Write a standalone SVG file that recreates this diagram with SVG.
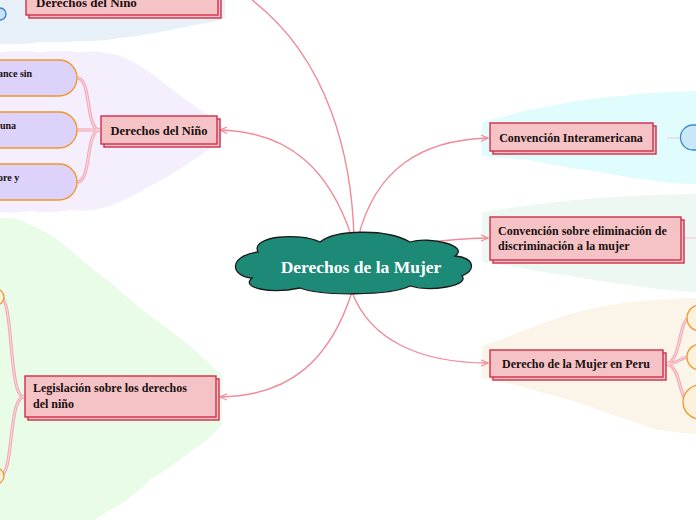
<svg xmlns="http://www.w3.org/2000/svg" width="696" height="520" viewBox="0 0 696 520">
<defs>
<style>
.t{font-family:"Liberation Serif","DejaVu Serif",serif;font-weight:bold;fill:#1a1010}
.box{fill:#f5c3c6;stroke:#cf2e4a;stroke-width:1.4}
.con{fill:none;stroke:#f28a98;stroke-width:1.4}
.sub{fill:none;stroke:#f4a8b4;stroke-width:3.2}
.subi{fill:none;stroke:#fbe0e6;stroke-width:1}
.pill{fill:#dcd2fa;stroke:#f0962a;stroke-width:1.3}
.opill{fill:#fdf1dc;stroke:#f0962a;stroke-width:1.3}
</style>
<marker id="ar" viewBox="0 0 10 10" refX="9" refY="5" markerWidth="8" markerHeight="8" orient="auto" markerUnits="userSpaceOnUse">
<path d="M0,1 L9,5 L0,9" fill="none" stroke="#f28a98" stroke-width="1.4"/>
</marker>
</defs>
<rect width="696" height="520" fill="#fff"/>
<g id="backgrounds">
<path d="M0,0 H225 V18 Q215,22 200,24 Q180,28 160,32 Q140,36 120,38 Q100,42 80,41 Q60,43 40,42 Q20,45 0,44 Z" fill="#e8f1f8"/>
<path d="M0,52 Q20,50 40,52 Q60,50 80,52 Q100,50 120,56 Q140,64 160,80 Q180,96 200,110 Q215,118 222,126 V138 Q210,150 190,162 Q170,176 150,186 Q130,198 110,206 Q90,212 70,210 Q50,214 30,211 Q15,214 0,212 Z" fill="#f5eefc"/>
<path d="M0,218 Q15,216 30,225 Q50,232 70,250 Q90,268 110,282 Q130,300 150,316 Q170,330 190,346 Q210,364 222,376 V424 Q210,440 190,452 Q170,468 150,480 Q130,500 110,510 Q100,516 95,520 H0 Z" fill="#e8fce8"/>
<path d="M482,122 Q500,118 520,112 Q540,108 560,104 Q580,100 600,98 Q620,96 640,94 Q660,92 696,91 V184 Q670,184 650,180 Q630,178 610,174 Q590,170 570,168 Q550,164 530,160 Q505,158 482,156 Z" fill="#e0fcfc"/>
<path d="M482,212 Q510,208 540,204 Q570,200 600,198 Q640,195 696,194 V292 Q660,290 630,285 Q600,282 570,276 Q540,272 510,266 Q495,264 482,262 Z" fill="#eef8f2"/>
<path d="M482,346 Q500,340 520,332 Q545,322 570,314 Q600,306 630,302 Q660,299 696,298 V434 Q670,432 650,428 Q630,420 610,414 Q590,406 570,400 Q540,392 520,386 Q500,382 482,378 Z" fill="#faf5e8"/>
</g>
<g id="connectors">
<path class="con" d="M354,238 C352,160 330,60 252,0"/>
<path class="con" d="M352,238 C330,170 290,132 220,130" marker-end="url(#ar)"/>
<path class="con" d="M358,238 C375,170 420,140 488,138" marker-end="url(#ar)"/>
<path class="con" d="M430,242 C450,240 470,238 488,238" marker-end="url(#ar)"/>
<path class="con" d="M352,292 C370,340 420,363 488,363" marker-end="url(#ar)"/>
<path class="con" d="M352,292 C330,360 290,396 220,397" marker-end="url(#ar)"/>
<g>
<path class="sub" d="M100,130 C85,130 92,78 77,78"/>
<path class="sub" d="M100,130 C85,130 92,130 77,130"/>
<path class="sub" d="M100,130 C85,130 92,182 77,182"/>
<path class="subi" d="M100,130 C85,130 92,78 77,78"/>
<path class="subi" d="M100,130 C85,130 92,130 77,130"/>
<path class="subi" d="M100,130 C85,130 92,182 77,182"/>
<path class="sub" d="M24,397 C8,397 14,297 0,297"/>
<path class="sub" d="M24,397 C8,397 14,476 0,476"/>
<path class="subi" d="M24,397 C8,397 14,297 0,297"/>
<path class="subi" d="M24,397 C8,397 14,476 0,476"/>
<path class="sub" d="M665,364 C682,364 678,318 690,318"/>
<path class="sub" d="M665,364 C682,364 678,357 690,357"/>
<path class="sub" d="M665,364 C682,364 678,402 690,402"/>
<path class="subi" d="M665,364 C682,364 678,318 690,318"/>
<path class="subi" d="M665,364 C682,364 678,357 690,357"/>
<path class="subi" d="M665,364 C682,364 678,402 690,402"/>
<path d="M667,138 H680" stroke="#e4e4e4" stroke-width="2"/>
<path d="M684,238 H696" stroke="#f8d0d6" stroke-width="1.5"/>
</g>
</g>
<g id="center">
<path d="M258,252 C250,236 300,232 320,242 C335,230 385,228 410,242 C430,236 470,246 455,256 C475,258 476,270 462,276 C470,286 430,292 410,286 C390,296 320,296 300,288 C270,294 240,288 252,278 C230,276 228,256 258,252 Z" fill="#1d8a78" stroke="#1a1a1a" stroke-width="1.3"/>
<text x="361" y="273" text-anchor="middle" font-family="Liberation Serif,DejaVu Serif,serif" font-weight="bold" font-size="17.5" fill="#fff">Derechos de la Mujer</text>
</g>
<g id="n-top">
<rect class="box" x="29" y="-10" width="192" height="28"/>
<rect class="box" x="26" y="-13" width="192" height="28"/>
<text class="t" x="36" y="7" font-size="13">Derechos del Niño</text>
<path d="M0,8 A6,6 0 0 1 0,20" fill="#c8e4fa" stroke="#3a7ad0" stroke-width="1.3"/>
</g>
<g id="n-ninos">
<rect class="box" x="104" y="119" width="116" height="28"/>
<rect class="box" x="101" y="116" width="116" height="28"/>
<text class="t" x="159" y="135" font-size="12.5" text-anchor="middle">Derechos del Niño</text>
</g>
<g id="p1"><path class="pill" d="M-20,60 H59 A18,18 0 0 1 59,96 H-20 Z"/><text class="t" x="-2" y="77" font-size="10">ance sin</text></g>
<g id="p2"><path class="pill" d="M-20,112 H59 A18,18 0 0 1 59,148 H-20 Z"/><text class="t" x="0" y="129" font-size="10">una</text></g>
<g id="p3"><path class="pill" d="M-20,164 H59 A18,18 0 0 1 59,200 H-20 Z"/><text class="t" x="-2" y="181" font-size="10">ore y</text></g>
<g id="n-inter">
<rect class="box" x="493" y="126" width="163" height="28"/>
<rect class="box" x="490" y="123" width="163" height="28"/>
<text class="t" x="571" y="142" font-size="12" text-anchor="middle">Convención Interamericana</text>
</g>
<g id="n-inter-c"><path d="M696,125 H693 A12.5,12.5 0 0 0 693,150 H696" fill="#c8e8fa" stroke="#3a88d0" stroke-width="1.3"/></g>
<g id="n-elim">
<rect class="box" x="493" y="220" width="191" height="43"/>
<rect class="box" x="490" y="217" width="191" height="43"/>
<text class="t" x="498" y="235" font-size="12">Convención sobre eliminación de</text>
<text class="t" x="498" y="250" font-size="12">discriminación a la mujer</text>
</g>
<g id="n-peru">
<rect class="box" x="493" y="353" width="173" height="27"/>
<rect class="box" x="490" y="350" width="173" height="27"/>
<text class="t" x="576" y="368" font-size="12" text-anchor="middle">Derecho de la Mujer en Peru</text>
</g>
<g id="o1"><path class="opill" d="M700,305 A13,13 0 0 0 700,331" /></g>
<g id="o2"><path class="opill" d="M700,344 A13,13 0 0 0 700,370" /></g>
<g id="o3"><path class="opill" d="M700,385 A17,17 0 0 0 700,419" /></g>
<g id="n-legis">
<rect class="box" x="28" y="379" width="191" height="41"/>
<rect class="box" x="25" y="376" width="191" height="41"/>
<text class="t" x="33" y="392" font-size="12">Legislación sobre los derechos</text>
<text class="t" x="33" y="408" font-size="12">del niño</text>
</g>
<g id="l1"><path class="opill" d="M-4,289 A8,8 0 0 1 -4,305"/></g>
<g id="l2"><path class="opill" d="M-4,468 A8,8 0 0 1 -4,484"/></g>
</svg>
